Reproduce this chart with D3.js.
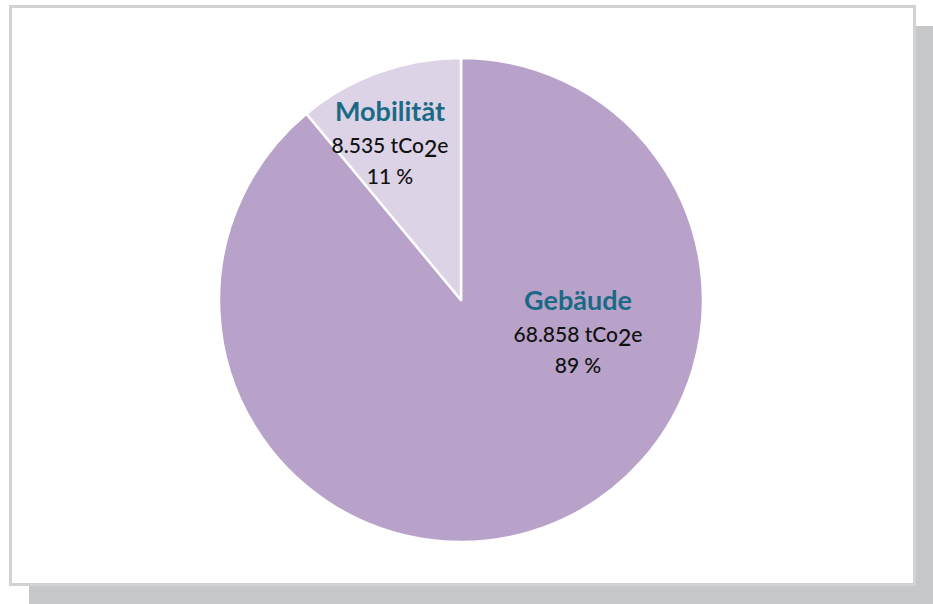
<html>
<head>
  <meta charset="utf-8" />
<script src="https://d3js.org/d3.v7.min.js"></script>
</head>
<style>
  body { margin: 0; background: #fff; }
  svg { display: block; }
</style>
<body>
<svg class="main" width="933" height="604"></svg>
<script>

const categories = ["Gebäude", "Mobilität"]
const values = [68858, 8535]
const valueLabels = ["68.858", "8.535"]
const percentLabels = ["89 %", "11 %"]
const colors = ["#b8a2c9", "#dcd3e7"]

// label anchor offsets from pie centre
const labelPos = [[117, 10], [-71, -179]]

const svg = d3.select("svg")

svg.append("rect")
  .attr("x", 29).attr("y", 26)
  .attr("width", 904).attr("height", 578)
  .style("fill", "#c6c7c9")

svg.append("rect")
  .attr("x", 10.5).attr("y", 6.5)
  .attr("width", 904).attr("height", 578)
  .style("fill", "#fff")
  .style("stroke", "#d2d2d2")
  .style("stroke-width", 3)

const cx = 461, cy = 300, r = 242

const pie = d3.pie().sort(null).value(d => d)
const arc = d3.arc().innerRadius(0).outerRadius(r)

const g = svg.append("g").attr("transform", `translate(${cx},${cy})`)

g.selectAll("path")
  .data(pie(values))
  .enter()
  .append("path")
  .attr("d", arc)
  .style("fill", (d, i) => colors[i])
  .style("stroke", "#fff")
  .style("stroke-width", 2.5)
  .style("stroke-linejoin", "round")

const labels = g.selectAll("g.label")
  .data(categories)
  .enter()
  .append("g")
  .attr("class", "label")
  .attr("transform", (d, i) => `translate(${labelPos[i][0]},${labelPos[i][1]})`)
  .style("font-family", "Lato, 'Open Sans', sans-serif")
  .attr("text-anchor", "middle")

labels.append("text")
  .attr("y", 0)
  .style("font-size", "27px")
  .style("font-weight", "bold")
  .style("fill", "#1b6a85")
  .text(d => d)

const val = labels.append("text")
  .attr("y", 32)
  .style("font-size", "21px")
  .style("font-weight", 500)
  .style("fill", "#111")
val.append("tspan").text((d, i) => valueLabels[i] + " tCo")
val.append("tspan").attr("dy", 4).style("font-size", "23px").text("2")
val.append("tspan").attr("dy", -4).text("e")

labels.append("text")
  .attr("y", 63)
  .style("font-size", "21px")
  .style("font-weight", 500)
  .style("fill", "#111")
  .text((d, i) => percentLabels[i])

</script>
</body>
</html>
